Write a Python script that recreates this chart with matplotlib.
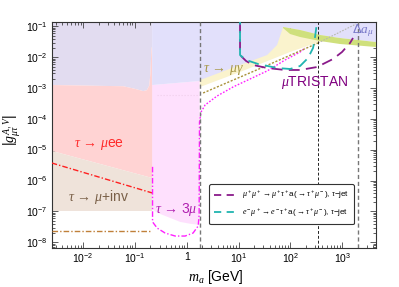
import matplotlib
matplotlib.use("Agg")
import matplotlib.pyplot as plt
from matplotlib.lines import Line2D
from matplotlib.ticker import LogLocator, NullFormatter

plt.rcParams['font.family'] = ['Liberation Sans', 'DejaVu Sans']
plt.rcParams['mathtext.fontset'] = 'custom'
plt.rcParams['mathtext.rm'] = 'Liberation Sans'
plt.rcParams['mathtext.it'] = 'Liberation Serif:italic'
plt.rcParams['mathtext.bf'] = 'Liberation Sans:bold'

# values: m_a in GeV, coupling |g|
m_tau = 1.777
sqrt_s_emu = 346.0
sqrt_s_mumu = 2000.0
m_lo, m_hi = 2.5e-3, 4.48e3
g_lo, g_hi = 6.7e-9, 0.136

# tau -> mu ee, upper edge of excluded band
mee_m = [2.5e-3, 0.06, 0.1, 0.145, 0.17, 0.19, 0.2, 0.207, 0.212, 0.216]
mee_g = [1.26e-3, 1.15e-3, 9.5e-4, 8.0e-4, 8.5e-4, 1.2e-3, 3e-3, 1.2e-2, 2.1e-2, 2.1e-2]
# tau -> mu + inv excluded band
inv_m = [2.5e-3, 0.216]
inv_top = [9.2e-6, 1.22e-6]
inv_bot = [1.04e-7, 1.04e-7]
# future lines left of the tau mass
mee_proj_g = [3.74e-6, 4.0e-7]
inv_proj_g = [2.34e-8, 2.34e-8]

# tau -> 3mu excluded region and its lines
tri_m = [0.216, 0.216, 0.25, 0.31, 0.48, 0.75, 1.17, 1.777, 1.777]
tri_g = [1.26e-3, 1.2e-7, 1.0e-7, 8.3e-8, 6.2e-8, 4.6e-8, 4.0e-8, 3.7e-8, 1.70e-3]
tri_line_m = [0.22, 0.22, 0.22, 0.27, 0.385, 0.60, 0.935, 1.33, 1.67, 1.74, 1.77]
tri_line_g = [2.8e-6, 1.6e-7, 4.6e-8, 2.9e-8, 2.0e-8, 1.6e-8, 1.6e-8, 2.0e-8, 3.4e-8, 7.8e-8, 8.0e-5]
tri_proj_m = [1.77, 1.90, 2.27, 3.87, 7.87, 16.7, 35.6, 79, 154, 192]
tri_proj_g = [8.0e-5, 1.68e-4, 2.84e-4, 5.56e-4, 1.09e-3, 1.98e-3, 3.59e-3, 8.15e-3, 1.48e-2, 2.0e-2]

# upper (lavender) region, lower edge right of 2 m_mu
lav_m = [0.216, 1.777, 1.82, 10.7, 35.6, 55.4, 69.2]
lav_g = [1.26e-3, 1.70e-3, 1.83e-3, 5.6e-3, 1.18e-2, 2.5e-2, 7.6e-2]

# tau -> mu gamma excluded, lower edge
mug_m = [1.777, 1.82, 10.7, 40.6, 98.7, 240, 374, 582]
mug_g = [1.09e-3, 1.09e-3, 3.33e-3, 8.15e-3, 1.48e-2, 2.49e-2, 3.12e-2, 3.6e-2]
mug_proj_m = [2.08, 26.1, 342]
mug_proj_g = [6.95e-4, 4.33e-3, 0.029]
mug_proj2_m = [342, 1845]
mug_proj2_g = [0.029, 0.12]

# Delta a_mu band
amu_top_m = [72.3, 154, 374, 907, 4480]
amu_top_g = [0.0957, 0.0764, 0.0526, 0.0421, 0.0312]
amu_bot_m = [72.3, 98.7, 154, 374, 907, 4480]
amu_bot_g = [0.0888, 0.0568, 0.0454, 0.0336, 0.0269, 0.0215]

# muTRISTAN reach
mumu_m = [10.7, 10.7, 14.0, 19.1, 35.6, 79.0, 154, 327, 665, 991, 1413, 1614]
mumu_g = [0.139, 0.0118, 0.00757, 0.00561, 0.00449, 0.00387, 0.00387, 0.00483, 0.00879, 0.0148, 0.029, 0.0421]
emu_m = [10.7, 10.7, 14.0, 23.9, 55.4, 98.7, 154, 219, 274, 299, 327]
emu_g = [0.139, 0.0118, 0.00815, 0.00605, 0.00449, 0.00417, 0.00521, 0.00946, 0.02, 0.0454, 0.139]

fig = plt.figure(figsize=(3.99, 2.87), dpi=100)
ax = fig.add_axes([51.7 / 399, 1 - 247.7 / 287, 324.3 / 399, 225.4 / 287])
ax.set_xscale('log')
ax.set_yscale('log')

# filled regions
ax.fill(mug_m + [mug_m[-1], mug_m[0]], mug_g + [1, 1], color='#faf3cd', lw=0, zorder=1)
ax.fill(tri_m, tri_g, color='#fee0fd', lw=0, zorder=2)
ax.fill(lav_m + amu_top_m + [m_hi * 2, 0.216], lav_g + amu_top_g + [1, 1],
        color='#e2e0fb', lw=0, zorder=2.2)
ax.fill(amu_top_m + amu_bot_m[::-1], amu_top_g + amu_bot_g[::-1], color='#cfe07c', lw=0, zorder=3)
ax.fill(mee_m + [0.216, m_lo], mee_g + [1, 1], color='#e2dcf0', lw=0, zorder=1)
ax.fill(mee_m + [0.216, m_lo], mee_g + [inv_top[1], inv_top[0]], color='#ffd3d3', lw=0, zorder=2)
ax.fill(inv_m + inv_m[::-1], inv_bot + inv_top[::-1], color='#efe3da', lw=0, zorder=2)

# lines
ax.plot(inv_m, mee_proj_g, color='#ff2020', lw=1.0, dashes=(4, 1.5, 1, 1.5), zorder=5)
ax.plot(inv_m, inv_proj_g, color='#c0803a', lw=1.0, dashes=(4, 1.5, 1, 1.5), zorder=5)
ax.plot(tri_line_m, tri_line_g, color='#ff20ff', lw=1.0, dashes=(4, 1.5, 1, 1.5), zorder=5)
ax.plot(tri_proj_m, tri_proj_g, color='#ff20ff', lw=1.0, dashes=(1.2, 1.2), zorder=5)
ax.plot([0.27, 1.77], [6.0e-4, 6.0e-4], color='#f2d2ee', lw=0.8, dashes=(1.2, 1.5), zorder=3)
ax.plot(mug_proj_m, mug_proj_g, color='#a89038', lw=1.0, dashes=(1.5, 1.2), zorder=5)
ax.plot(mug_proj2_m, mug_proj2_g, color='#b8b8b0', lw=0.8, dashes=(1.5, 1.2), zorder=5)

for xv, c, lw in [(m_tau, '#777777', 1.0), (sqrt_s_emu, '#222222', 0.7), (sqrt_s_mumu, '#777777', 1.0)]:
    ax.axvline(xv, color=c, lw=lw, dashes=(3, 2), zorder=6)

ax.plot(mumu_m, mumu_g, color='#8a1a8a', lw=1.3, linestyle=(0, (6, 3.5)), zorder=7)
ax.plot(emu_m, emu_g, color='#20b4b0', lw=1.3, linestyle=(4.5, (6, 3.5)), zorder=7)

# region labels
ax.text(0.0208, 1.45e-5, r'$\tau\,\rightarrow\,\mu$ee', color='#ff2a2a', fontsize=10,
        ha='center', va='center', zorder=8)
ax.text(0.0197, 2.95e-7, r'$\tau\,\rightarrow\,\mu$+inv', color='#7a6048', fontsize=10,
        ha='center', va='center', zorder=8)
ax.text(0.245, 1.2e-7, r'$\tau\,\rightarrow\,3\mu$', color='#b020b0', fontsize=10,
        ha='left', va='center', zorder=8)
ax.text(2.1, 3.9e-3, r'$\tau\,\rightarrow\,\mu\gamma$', color='#a89848', fontsize=10,
        ha='left', va='center', zorder=8)
ax.text(299, 1.47e-3, r'$\mu$TRISTAN', color='#800080', fontsize=10,
        ha='center', va='center', zorder=8)
ax.text(1550, 0.071, r'$\Delta a_\mu$', color='#7878c8', fontsize=9.5,
        ha='left', va='center', zorder=8, clip_on=True)

handles = [
    Line2D([], [], color='#8a1a8a', lw=1.3, dashes=(4, 3)),
    Line2D([], [], color='#20b4b0', lw=1.3, dashes=(4, 3)),
]
labels = [
    r'$\mu^+\mu^+\rightarrow\mu^+\tau^+$a($\rightarrow\tau^+\mu^-$), $\tau$$-$jet',
    r'$e^-\mu^+\rightarrow e^-\tau^+$a($\rightarrow\tau^+\mu^-$), $\tau$$-$jet',
]
leg = ax.legend(handles, labels, loc='upper left', bbox_to_anchor=(0.48, 0.29),
                fontsize=5.8, handlelength=2.6, frameon=True, fancybox=True,
                borderpad=0.65, labelspacing=0.65, handletextpad=0.8, borderaxespad=0.2)
leg.get_frame().set_edgecolor('#333333')
leg.get_frame().set_linewidth(0.8)
leg.get_frame().set_alpha(1)
leg.set_zorder(10)

ax.set_xlim(m_lo, m_hi)
ax.set_ylim(g_lo, g_hi)
ax.set_xticks([1e-2, 1e-1, 1, 10, 100, 1000],
              labels=[r'$10^{-2}$', r'$10^{-1}$', '1', r'$10^{1}$', r'$10^{2}$', r'$10^{3}$'])
ax.set_yticks([10.0 ** k for k in range(-8, 0)],
              labels=[r'$10^{%d}$' % k for k in range(-8, 0)])
ax.xaxis.set_minor_locator(LogLocator(base=10, subs=range(2, 10), numticks=50))
ax.yaxis.set_minor_locator(LogLocator(base=10, subs=range(2, 10), numticks=50))
ax.xaxis.set_minor_formatter(NullFormatter())
ax.yaxis.set_minor_formatter(NullFormatter())
ax.tick_params(which='both', direction='in', top=True, right=True, width=0.6,
               color='#444444', labelsize=7.5, pad=3)
ax.tick_params(which='major', length=4)
ax.tick_params(which='minor', length=2)
for sp in ax.spines.values():
    sp.set_linewidth(0.8)
    sp.set_color('#333333')

ax.set_xlabel(r'$m_a$ [GeV]', fontsize=10)
ax.set_ylabel(r'$|g_{\mu\tau}^{A,V}|$', fontsize=10)
ax.xaxis.set_label_coords(0.507, -0.09)
ax.yaxis.set_label_coords(-0.09, 0.52)

fig.savefig('out.png', dpi=100)
